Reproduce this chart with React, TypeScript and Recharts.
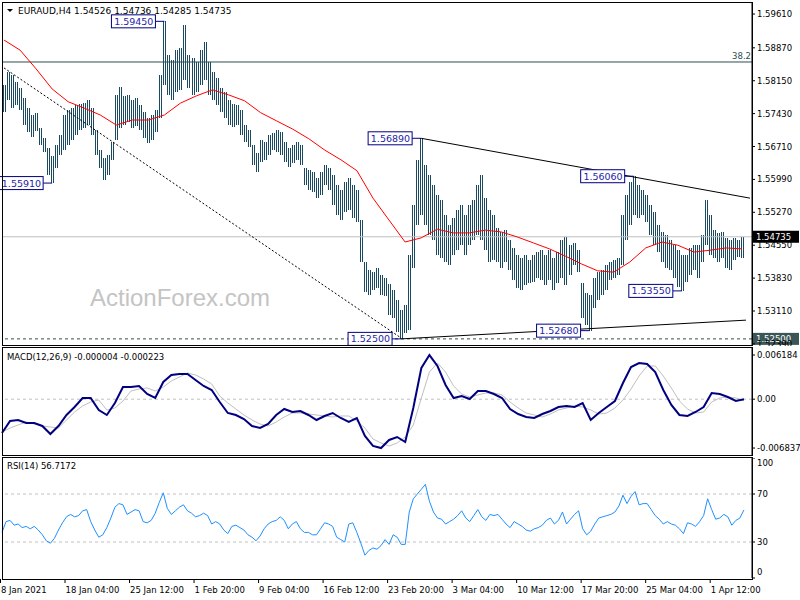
import React from 'react'
import { ComposedChart, Bar, Line, XAxis, YAxis, ReferenceLine, ReferenceDot } from 'recharts'

// EURAUD H4, one sample = two H4 bars
const highs = [
  1.5806, 1.5834, 1.5828, 1.5812, 1.5799, 1.5777, 1.5755, 1.5740, 1.5745, 1.5712,
  1.5690, 1.5668, 1.5650, 1.5674, 1.5696, 1.5740, 1.5751, 1.5755, 1.5762, 1.5764,
  1.5766, 1.5773, 1.5755, 1.5707, 1.5663, 1.5646, 1.5653, 1.5681, 1.5784, 1.5801,
  1.5782, 1.5784, 1.5773, 1.5777, 1.5762, 1.5747, 1.5734, 1.5740, 1.5751, 1.5828,
  1.5945, 1.5872, 1.5861, 1.5882, 1.5887, 1.5937, 1.5872, 1.5865, 1.5856, 1.5882,
  1.5900, 1.5856, 1.5834, 1.5821, 1.5799, 1.5791, 1.5773, 1.5764, 1.5762, 1.5751,
  1.5718, 1.5707, 1.5674, 1.5657, 1.5685, 1.5681, 1.5696, 1.5701, 1.5707, 1.5703,
  1.5681, 1.5668, 1.5674, 1.5681, 1.5674, 1.5624, 1.5620, 1.5615, 1.5602, 1.5615,
  1.5631, 1.5624, 1.5609, 1.5587, 1.5576, 1.5593, 1.5602, 1.5587, 1.5576, 1.5510,
  1.5418, 1.5401, 1.5396, 1.5405, 1.5390, 1.5383, 1.5370, 1.5357, 1.5335, 1.5313,
  1.5324, 1.5434, 1.5543, 1.5642, 1.5689, 1.5631, 1.5609, 1.5587, 1.5565, 1.5554,
  1.5521, 1.5499, 1.5515, 1.5532, 1.5543, 1.5521, 1.5543, 1.5554, 1.5587, 1.5609,
  1.5558, 1.5532, 1.5521, 1.5493, 1.5484, 1.5488, 1.5466, 1.5449, 1.5434, 1.5427,
  1.5434, 1.5423, 1.5434, 1.5440, 1.5444, 1.5434, 1.5444, 1.5427, 1.5440, 1.5466,
  1.5473, 1.5455, 1.5460, 1.5444, 1.5372, 1.5350, 1.5346, 1.5383, 1.5396, 1.5401,
  1.5412, 1.5418, 1.5423, 1.5427, 1.5521, 1.5565, 1.5593, 1.5606, 1.5587, 1.5576,
  1.5565, 1.5543, 1.5528, 1.5499, 1.5484, 1.5477, 1.5466, 1.5455, 1.5444, 1.5434,
  1.5434, 1.5449, 1.5455, 1.5455, 1.5477, 1.5554, 1.5521, 1.5488, 1.5482, 1.5484,
  1.5471, 1.5466, 1.5471, 1.5466, 1.5474,
]

const lows = [
  1.5747, 1.5773, 1.5755, 1.5762, 1.5751, 1.5718, 1.5703, 1.5692, 1.5705, 1.5674,
  1.5659, 1.5609, 1.5591, 1.5624, 1.5653, 1.5663, 1.5674, 1.5685, 1.5696, 1.5707,
  1.5712, 1.5718, 1.5696, 1.5653, 1.5624, 1.5598, 1.5609, 1.5642, 1.5685, 1.5712,
  1.5718, 1.5725, 1.5712, 1.5716, 1.5707, 1.5690, 1.5679, 1.5685, 1.5703, 1.5734,
  1.5806, 1.5784, 1.5773, 1.5791, 1.5795, 1.5817, 1.5799, 1.5784, 1.5791, 1.5806,
  1.5817, 1.5784, 1.5773, 1.5762, 1.5747, 1.5734, 1.5718, 1.5714, 1.5718, 1.5696,
  1.5681, 1.5670, 1.5631, 1.5615, 1.5637, 1.5642, 1.5653, 1.5663, 1.5659, 1.5653,
  1.5637, 1.5626, 1.5635, 1.5642, 1.5631, 1.5587, 1.5576, 1.5572, 1.5558, 1.5565,
  1.5587, 1.5576, 1.5543, 1.5521, 1.5510, 1.5528, 1.5532, 1.5515, 1.5506, 1.5418,
  1.5353, 1.5346, 1.5357, 1.5361, 1.5346, 1.5344, 1.5302, 1.5296, 1.5265, 1.5250,
  1.5263, 1.5269, 1.5405, 1.5499, 1.5521, 1.5499, 1.5477, 1.5466, 1.5434, 1.5427,
  1.5418, 1.5412, 1.5434, 1.5444, 1.5455, 1.5434, 1.5455, 1.5466, 1.5477, 1.5466,
  1.5444, 1.5418, 1.5423, 1.5418, 1.5405, 1.5418, 1.5401, 1.5379, 1.5361, 1.5357,
  1.5368, 1.5372, 1.5374, 1.5383, 1.5379, 1.5368, 1.5379, 1.5357, 1.5372, 1.5383,
  1.5368, 1.5390, 1.5412, 1.5396, 1.5296, 1.5280, 1.5268, 1.5317, 1.5335, 1.5346,
  1.5357, 1.5379, 1.5383, 1.5390, 1.5412, 1.5466, 1.5499, 1.5521, 1.5515, 1.5521,
  1.5506, 1.5477, 1.5455, 1.5440, 1.5418, 1.5405, 1.5401, 1.5383, 1.5363, 1.5355,
  1.5374, 1.5390, 1.5401, 1.5383, 1.5418, 1.5455, 1.5434, 1.5427, 1.5418, 1.5427,
  1.5405, 1.5401, 1.5423, 1.5429, 1.5429,
]

// red moving average, one value every 4th sample
const ma = [
  1.5904, 1.5882, 1.5841, 1.5797, 1.5769, 1.5755, 1.5740, 1.5718, 1.5729, 1.5729,
  1.5740, 1.5766, 1.5782, 1.5795, 1.5784, 1.5771, 1.5745, 1.5727, 1.5709, 1.5688,
  1.5663, 1.5642, 1.5618, 1.5558, 1.5510, 1.5462, 1.5471, 1.5490, 1.5482, 1.5482,
  1.5488, 1.5484, 1.5473, 1.5460, 1.5447, 1.5431, 1.5414, 1.5399, 1.5396, 1.5418,
  1.5449, 1.5462, 1.5455, 1.5440, 1.5444, 1.5449, 1.5447,
]

// MACD(12,26,9), one value every 2nd sample
const macdMain = [
  -0.00473, -0.00305, -0.00291, -0.00333, -0.00333, -0.00375, -0.00487, -0.00375, -0.00221, -0.00109,
  0.00017, 0.00017, -0.00151, -0.00221, -0.00053, 0.00171, 0.00171, 0.00185, 0.00073, 0.00017,
  0.00241, 0.00339, 0.00353, 0.00353, 0.00269, 0.00185, 0.00129, -0.00039, -0.00193, -0.00221,
  -0.00277, -0.00375, -0.00403, -0.00347, -0.00221, -0.00137, -0.00179, -0.00165, -0.00221, -0.00291,
  -0.00235, -0.00193, -0.00263, -0.00319, -0.00263, -0.00515, -0.00655, -0.00684, -0.00571, -0.00529,
  -0.00599, -0.00123, 0.00437, 0.00618, 0.00465, 0.00199, 0.00017, 0.00045, 0.00003, 0.00115,
  0.00115, 0.00073, 0.00017, -0.00137, -0.00207, -0.00249, -0.00263, -0.00207, -0.00165, -0.00109,
  -0.00095, -0.00109, -0.00053, -0.00291, -0.00193, -0.00109, -0.00025, 0.00227, 0.00451, 0.00507,
  0.00493, 0.00381, 0.00129, -0.00081, -0.00221, -0.00235, -0.00179, -0.00109, 0.00087, 0.00073,
  0.00031, -0.00025, -0.000004,
]

const macdSignal = [
  -0.00459, -0.00403, -0.00361, -0.00319, -0.00347, -0.00375, -0.00389, -0.00403, -0.00291, -0.00179,
  -0.00095, -0.00039, -0.00011, -0.00151, -0.00123, -0.00025, 0.00115, 0.00143, 0.00157, 0.00115,
  0.00171, 0.00255, 0.00311, 0.00367, 0.00339, 0.00283, 0.00213, 0.00045, -0.00053, -0.00137,
  -0.00221, -0.00291, -0.00347, -0.00375, -0.00319, -0.00249, -0.00193, -0.00193, -0.00207, -0.00221,
  -0.00235, -0.00249, -0.00235, -0.00235, -0.00305, -0.00403, -0.00557, -0.00613, -0.00655, -0.00613,
  -0.00529, -0.00361, 0.00017, 0.00381, 0.00507, 0.00381, 0.00185, 0.00073, 0.00031, 0.00059,
  0.00087, 0.00087, 0.00059, -0.00039, -0.00123, -0.00193, -0.00221, -0.00249, -0.00207, -0.00151,
  -0.00123, -0.00095, -0.00109, -0.00151, -0.00207, -0.00193, -0.00123, -0.00011, 0.00143, 0.00325,
  0.00465, 0.00465, 0.00325, 0.00157, -0.00025, -0.00137, -0.00193, -0.00179, -0.00039, 0.00017,
  0.00031, 0.00017, -0.000223,
]

const rsi = [
  38, 47, 48, 44, 45, 42, 43, 41, 43, 40,
  36, 31, 29, 33, 40, 46, 51, 53, 51, 52,
  56, 57, 47, 40, 34, 36, 42, 50, 59, 62,
  61, 53, 55, 57, 56, 47, 46, 48, 54, 63,
  71, 58, 53, 56, 59, 61, 56, 54, 51, 52,
  54, 52, 45, 47, 45, 40, 37, 43, 44, 42,
  40, 36, 34, 31, 35, 41, 45, 47, 48, 51,
  48, 41, 45, 47, 41, 38, 38, 36, 36, 41,
  46, 45, 43, 34, 32, 30, 45, 46, 38, 29,
  19, 23, 25, 24, 27, 32, 28, 36, 34, 28,
  28, 55, 66, 70, 74, 78, 64, 55, 50, 49,
  45, 47, 49, 52, 56, 50, 47, 52, 57, 51,
  48, 53, 52, 53, 49, 45, 42, 47, 45, 43,
  40, 39, 41, 42, 44, 48, 50, 45, 48, 55,
  45, 49, 53, 56, 41, 36, 39, 45, 50, 51,
  52, 53, 55, 60, 69, 62, 68, 72, 61, 62,
  62, 57, 52, 49, 45, 47, 45, 44, 41, 37,
  46, 45, 43, 47, 52, 66, 57, 49, 50, 53,
  51, 44, 48, 50, 56.7172,
]

const priceTicks = [1.5961, 1.5887, 1.5815, 1.5743, 1.5671, 1.5599, 1.5527, 1.5455, 1.5383, 1.5311, 1.5239]
const macdTicks = [0.006184, 0, -0.006837]
const rsiTicks = [100, 70, 30, 0]

const dateIdx = [0, 16, 32, 48, 64, 80, 96, 112, 128, 144, 160, 176]
const dateLabels = [
  '8 Jan 2021', '18 Jan 04:00', '25 Jan 12:00', '1 Feb 20:00', '9 Feb 04:00', '16 Feb 12:00',
  '23 Feb 20:00', '3 Mar 04:00', '10 Mar 12:00', '17 Mar 20:00', '25 Mar 04:00', '1 Apr 12:00',
]

const swings = [
  { i: 40, price: 1.5945 },
  { i: 12, price: 1.5591 },
  { i: 104, price: 1.5689 },
  { i: 157, price: 1.5606 },
  { i: 169, price: 1.5355 },
  { i: 146, price: 1.5268 },
  { i: 99, price: 1.525 },
]

const trendLines = [
  { a: [0, 1.5843], b: [99, 1.5252], dash: '2 2' },
  { a: [104, 1.5689], b: [186, 1.5558], dash: undefined },
  { a: [99, 1.525], b: [185, 1.5291], dash: undefined },
]

const fibLevel = 1.5856
const lastPrice = 1.54735
const supportLevel = 1.525

const SLOTS = 187
const rows = Array.from({ length: SLOTS }, (_, i) => ({
  i,
  range: i < highs.length ? [lows[i], highs[i]] : null,
  ma: i % 4 === 0 && i / 4 < ma.length ? ma[i / 4] : null,
  macd: i % 2 === 0 && i / 2 < macdMain.length ? macdMain[i / 2] : null,
  signal: i % 2 === 0 && i / 2 < macdSignal.length ? macdSignal[i / 2] : null,
  rsi: i < rsi.length ? rsi[i] : null,
}))

const FONT = 'DejaVu Sans, sans-serif'
const BAR = '#1a4a62'
const axisTick = { fontSize: 8.5, fill: '#000', fontFamily: FONT }

const frame = (top: number, height: number): React.CSSProperties => ({
  position: 'absolute', left: 2, top, width: 751, height, border: '1px solid #000',
  boxSizing: 'border-box', pointerEvents: 'none',
})

// each sample stands for two H4 bars: draw it as a pair of thin hairlines
const HairBar = (props: any) => {
  const { x, y, width, height } = props
  if (height == null || isNaN(y)) return null
  const left = Math.round(x + width / 2 - 1.5)
  const top = Math.round(y)
  const h = Math.max(1, Math.round(height))
  return (
    <g shapeRendering="crispEdges">
      <rect x={left} y={top} width={1} height={h} fill={BAR} />
      <rect x={left + 2} y={top} width={1} height={h} fill={BAR} />
    </g>
  )
}

const axisTag = (text: string, bg: string) => (props: any) => {
  const { viewBox } = props
  const x = viewBox.x + viewBox.width + 1
  const y = viewBox.y
  return (
    <g>
      <rect x={x} y={y - 6} width={46} height={12} fill={bg} />
      <text x={x + 3} y={y + 3.5} fontSize={8.5} fontFamily={FONT} fill="#fff">{text}</text>
    </g>
  )
}

const fibLabel = (props: any) => {
  const { viewBox } = props
  return (
    <text x={viewBox.x + viewBox.width - 1} y={viewBox.y - 3} textAnchor="end" fontSize={8.5}
      fontFamily={FONT} fill="#2f4f4f">38.2</text>
  )
}

const swingTag = (text: string) => (props: any) => {
  const { cx, cy } = props
  const right = cx - 9
  return (
    <g>
      <line x1={right} y1={cy} x2={cx} y2={cy} stroke="#000080" />
      <rect x={right - 44} y={cy - 6.5} width={44} height={13} fill="#fff" stroke="#000080" />
      <text x={right - 2} y={cy + 3.5} textAnchor="end" fontSize={9.5} fontFamily={FONT} fill="#2424a8">{text}</text>
    </g>
  )
}

function DateTick({ x, y, payload }: any) {
  const k = dateIdx.indexOf(payload.value)
  return (
    <g>
      <line x1={x - 1.5} x2={x - 1.5} y1={y - 1} y2={y + 3} stroke="#000" />
      <text x={x - 1} y={y + 13} fontSize={8.5} fontFamily={FONT} fill="#000">{dateLabels[k]}</text>
    </g>
  )
}

function RsiTick({ x, y, payload }: any) {
  const v = payload.value
  const dy = v === 100 ? 5 : v === 0 ? -6 : 0
  return <text x={x} y={y + dy + 3} fontSize={8.5} fontFamily={FONT} fill="#000">{v}</text>
}

export default function App() {
  return (
    <div style={{ position: 'absolute', left: 0, top: 0, width: 800, height: 600, background: '#fff', overflow: 'hidden' }}>
      <div style={{ position: 'absolute', left: 0, top: 0 }}>
        <ComposedChart width={800} height={346} data={rows} margin={{ top: 2, right: 0, bottom: 1, left: 2 }}>
          <XAxis dataKey="i" hide />
          <YAxis orientation="right" width={48} domain={[1.52366, 1.59873]} ticks={priceTicks} interval={0}
            allowDataOverflow tickFormatter={(v: number) => v.toFixed(5)} tick={axisTick}
            tickSize={3} tickMargin={2} stroke="#000" />
          <ReferenceLine y={fibLevel} stroke="#2f4f4f" label={fibLabel} />
          <ReferenceLine y={lastPrice} stroke="#c0c0c0" label={axisTag('1.54735', '#000')} />
          <ReferenceLine y={supportLevel} stroke="#2f4f4f" strokeDasharray="3 3" label={axisTag('1.52500', '#3a5656')} />
          <Bar dataKey="range" fill={BAR} barSize={3} shape={HairBar} isAnimationActive={false} />
          <Line dataKey="ma" stroke="#ff0000" strokeWidth={1} dot={false} connectNulls isAnimationActive={false} />
          {trendLines.map((t, k) => (
            <ReferenceLine key={k} segment={[{ x: t.a[0], y: t.a[1] }, { x: t.b[0], y: t.b[1] }]}
              stroke="#000" strokeDasharray={t.dash} ifOverflow="visible" />
          ))}
          {swings.map(s => (
            <ReferenceDot key={s.i} x={s.i} y={s.price} ifOverflow="visible" shape={swingTag(s.price.toFixed(5))} />
          ))}
        </ComposedChart>
      </div>

      <div style={{ position: 'absolute', left: 0, top: 347 }}>
        <ComposedChart width={800} height={108} data={rows} margin={{ top: 0, right: 0, bottom: 0, left: 2 }}>
          <XAxis dataKey="i" hide />
          <YAxis orientation="right" width={48} domain={[-0.007812, 0.007308]} ticks={macdTicks} interval={0}
            allowDataOverflow tickFormatter={(v: number) => (v === 0 ? '0.00' : v.toFixed(6))} tick={axisTick}
            tickSize={3} tickMargin={2} stroke="#000" />
          <ReferenceLine y={0} stroke="#c0c0c0" strokeDasharray="3 3" />
          <Line dataKey="signal" stroke="#c0c0c0" strokeWidth={1} dot={false} connectNulls isAnimationActive={false} />
          <Line dataKey="macd" stroke="#000080" strokeWidth={2} dot={false} connectNulls isAnimationActive={false} />
        </ComposedChart>
      </div>

      <div style={{ position: 'absolute', left: 0, top: 458 }}>
        <ComposedChart width={800} height={142} data={rows} margin={{ top: 0, right: 0, bottom: 0, left: 2 }}>
          <XAxis dataKey="i" ticks={dateIdx} interval={0} tick={<DateTick />} tickLine={false} axisLine={false}
            height={22} tickSize={0} tickMargin={2} />
          <YAxis orientation="right" width={48} domain={[0, 100]} ticks={rsiTicks} interval={0}
            tick={<RsiTick />} tickSize={3} tickMargin={2} stroke="#000" />
          <ReferenceLine y={70} stroke="#c0c0c0" strokeDasharray="3 3" />
          <ReferenceLine y={30} stroke="#c0c0c0" strokeDasharray="3 3" />
          <Line dataKey="rsi" stroke="#1e90ff" strokeWidth={1} dot={false} isAnimationActive={false} />
        </ComposedChart>
      </div>

      <div style={frame(2, 344)} />
      <div style={frame(347, 109)} />
      <div style={frame(457, 123)} />

      <svg width={800} height={600} style={{ position: 'absolute', left: 0, top: 0, pointerEvents: 'none' }}>
        <polygon points="7,9 13,9 10,12" fill="#000" />
        <text x={18} y={14} fontSize={9} fontFamily={FONT} fill="#000">EURAUD,H4  1.54526 1.54736 1.54285 1.54735</text>
        <text x={90} y={306} fontSize={24} fontFamily="Liberation Sans, Arial, sans-serif" fill="#c4c4c4">ActionForex.com</text>
        <text x={7} y={360} fontSize={8.5} fontFamily={FONT} fill="#000">MACD(12,26,9) -0.000004 -0.000223</text>
        <text x={7} y={469} fontSize={8.5} fontFamily={FONT} fill="#000">RSI(14) 56.7172</text>
      </svg>
    </div>
  )
}
